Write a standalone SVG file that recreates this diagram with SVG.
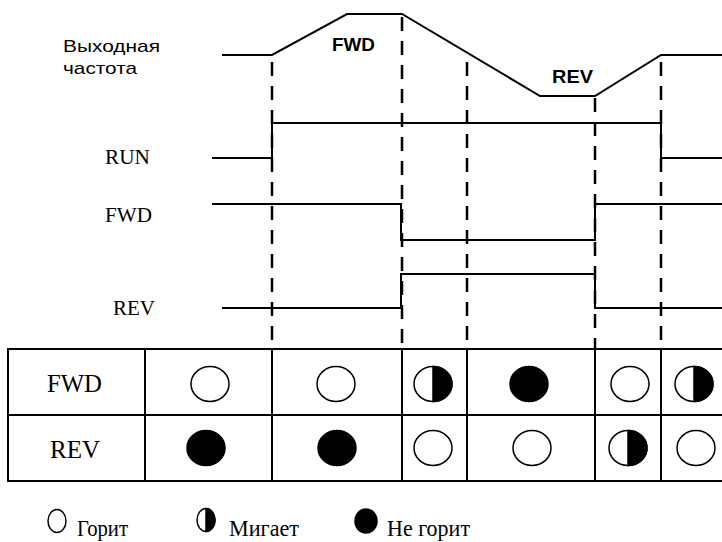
<svg xmlns="http://www.w3.org/2000/svg" width="722" height="542" viewBox="0 0 722 542">
<style>
.sig{fill:none;stroke:#000;stroke-width:2}
.dash{fill:none;stroke:#000;stroke-width:2.5;stroke-dasharray:14 10}
.grid{fill:none;stroke:#000;stroke-width:2}
.ar{font-family:"Liberation Sans",Arial,sans-serif;fill:#000}
.tm{font-family:"Liberation Serif","Times New Roman",serif;fill:#000}
.o{fill:#fff;stroke:#000;stroke-width:1.5}
.f{fill:#000;stroke:#000;stroke-width:1.5}
</style>
<rect width="722" height="542" fill="#fff"/>
<g id="labels">
<text class="ar" x="63" y="52" font-size="17" textLength="97" lengthAdjust="spacingAndGlyphs">Выходная</text>
<text class="ar" x="63" y="74" font-size="17" textLength="74" lengthAdjust="spacingAndGlyphs">частота</text>
<text class="ar" x="332" y="51" font-size="18" font-weight="bold" textLength="43" lengthAdjust="spacingAndGlyphs">FWD</text>
<text class="ar" x="552" y="83" font-size="18" font-weight="bold" textLength="41" lengthAdjust="spacingAndGlyphs">REV</text>
<text class="tm" x="105" y="164" font-size="20" textLength="45" lengthAdjust="spacingAndGlyphs">RUN</text>
<text class="tm" x="105" y="222" font-size="20" textLength="47" lengthAdjust="spacingAndGlyphs">FWD</text>
<text class="tm" x="113" y="315" font-size="20" textLength="42" lengthAdjust="spacingAndGlyphs">REV</text>
</g>
<g id="connectors">
<line class="dash" x1="272" y1="62" x2="272" y2="349"/>
<line class="dash" x1="402" y1="17" x2="402" y2="349"/>
<line class="dash" x1="467" y1="62" x2="467" y2="349"/>
<line class="dash" x1="595" y1="98" x2="595" y2="349"/>
<line class="dash" x1="661" y1="62" x2="661" y2="349"/>
</g>
<g id="output-frequency">
<polyline class="sig" points="222,55 272,55 347,14 402,14 540,96 595,96 661,55 722,55"/>
</g>
<g id="run-signal">
<polyline class="sig" points="212,158 272,158 272,123 661,123 661,158 722,158"/>
</g>
<g id="fwd-signal">
<polyline class="sig" points="212,204 401,204 401,240 595,240 595,204 722,204"/>
</g>
<g id="rev-signal">
<polyline class="sig" points="222,308 401,308 401,274 595,274 595,308 722,308"/>
</g>
<g id="table">
<line class="grid" x1="7" y1="349" x2="722" y2="349"/>
<line class="grid" x1="7" y1="415" x2="722" y2="415"/>
<line class="grid" x1="7" y1="481" x2="722" y2="481"/>
<line class="grid" x1="8" y1="349" x2="8" y2="481"/>
<line class="grid" x1="145" y1="349" x2="145" y2="481"/>
<line class="grid" x1="272" y1="349" x2="272" y2="481"/>
<line class="grid" x1="402" y1="349" x2="402" y2="481"/>
<line class="grid" x1="467" y1="349" x2="467" y2="481"/>
<line class="grid" x1="595" y1="349" x2="595" y2="481"/>
<line class="grid" x1="661" y1="349" x2="661" y2="481"/>
<text class="tm" x="47" y="392" font-size="26" textLength="55" lengthAdjust="spacingAndGlyphs">FWD</text>
<text class="tm" x="50" y="458" font-size="26" textLength="50" lengthAdjust="spacingAndGlyphs">REV</text>
</g>
<g id="fwd-row">
<ellipse class="o" cx="210" cy="384" rx="19" ry="17.5"/>
<ellipse class="o" cx="336" cy="384" rx="19" ry="17.5"/>
<ellipse class="o" cx="433" cy="384" rx="19" ry="17.5"/>
<path class="f" d="M433,366.5 A19,17.5 0 0 1 433,401.5 Z"/>
<ellipse class="f" cx="529" cy="384" rx="19" ry="17.5"/>
<ellipse class="o" cx="630" cy="384" rx="19" ry="17.5"/>
<ellipse class="o" cx="694" cy="384" rx="19" ry="17.5"/>
<path class="f" d="M694,366.5 A19,17.5 0 0 1 694,401.5 Z"/>
</g>
<g id="rev-row">
<ellipse class="f" cx="206" cy="448" rx="19" ry="17.5"/>
<ellipse class="f" cx="337" cy="448" rx="19" ry="17.5"/>
<ellipse class="o" cx="433" cy="448" rx="19" ry="17.5"/>
<ellipse class="o" cx="532" cy="448" rx="19" ry="17.5"/>
<ellipse class="o" cx="628" cy="448" rx="19" ry="17.5"/>
<path class="f" d="M628,430.5 A19,17.5 0 0 1 628,465.5 Z"/>
<ellipse class="o" cx="696" cy="448" rx="19" ry="17.5"/>
</g>
<g id="legend">
<ellipse class="o" cx="57" cy="521" rx="9" ry="11.5"/>
<text class="tm" x="77" y="536" font-size="23" textLength="51" lengthAdjust="spacingAndGlyphs">Горит</text>
<ellipse class="o" cx="206" cy="520" rx="9" ry="11.5"/>
<path class="f" d="M206,508.5 A9,11.5 0 0 1 206,531.5 Z"/>
<text class="tm" x="229" y="536" font-size="23" textLength="70" lengthAdjust="spacingAndGlyphs">Мигает</text>
<ellipse class="f" cx="366" cy="521" rx="11" ry="12"/>
<text class="tm" x="387" y="536" font-size="23" textLength="83" lengthAdjust="spacingAndGlyphs">Не горит</text>
</g>
</svg>
